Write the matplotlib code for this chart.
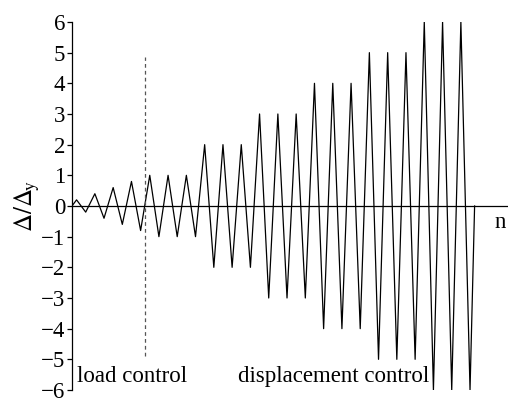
import matplotlib
matplotlib.use('Agg')
import matplotlib.pyplot as plt
import numpy as np

plt.rcParams['font.family'] = ['Liberation Serif', 'DejaVu Serif']
plt.rcParams['mathtext.fontset'] = 'stix'

# cycle amplitudes (Delta/Delta_y): load control then displacement control
load_amps = [0.2, 0.4, 0.6, 0.8]
disp_amps = [1, 1, 1, 2, 2, 2, 3, 3, 3, 4, 4, 4, 5, 5, 5, 6, 6, 6]
amps = load_amps + disp_amps

# each cycle: 0 -> +a -> -a -> back, quarter-cycle time step = 1
t = [0]
y = [0]
for k, a in enumerate(amps):
    t += [4 * k + 1, 4 * k + 3]
    y += [a, -a]
t.append(4 * len(amps))
y.append(0)

switch_t = 4 * len(load_amps)
dash_lo, dash_hi = -4.9, 4.85

fig = plt.figure(figsize=(5.08, 3.99), dpi=100)
ax = fig.add_axes([0.1417, 0.0226, 0.8583, 0.9223])

ax.plot(t, y, color='black', lw=0.9)
ax.plot([switch_t, switch_t], [dash_lo, dash_hi], color='#555555', lw=0.9,
        ls=(0, (3, 2.5)))

ax.set_xlim(0, 95.3)
ax.set_ylim(-6, 6)
ax.set_yticks(range(-6, 7))
ax.set_yticklabels([('\u2212%d' % -v) if v < 0 else str(v) for v in range(-6, 7)])
ax.set_xticks([])

ax.spines['top'].set_visible(False)
ax.spines['right'].set_visible(False)
ax.spines['bottom'].set_position(('data', 0))
ax.spines['left'].set_linewidth(0.9)
ax.spines['bottom'].set_linewidth(0.9)
ax.tick_params(axis='y', direction='out', length=3.5, width=0.9, pad=1.5,
               labelsize=16.5)

ax.set_ylabel(r'$\Delta/\Delta_{\!\mathrm{y}}$', fontsize=18, labelpad=-1)
ax.text(92.3, -0.55, 'n', fontsize=16.5, ha='left', va='center')
ax.text(1.0, -5.55, 'load control', fontsize=16.5, ha='left', va='center')
ax.text(36.3, -5.55, 'displacement control', fontsize=16.5, ha='left', va='center')

fig.savefig('out.png', dpi=100)
